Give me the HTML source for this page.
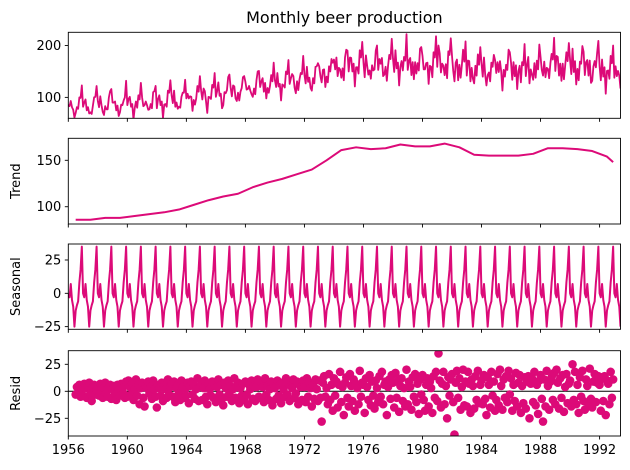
<!DOCTYPE html>
<html><head><meta charset="utf-8"><style>
html,body{margin:0;padding:0;background:#fff;}
svg{display:block;font-family:"DejaVu Sans","Liberation Sans",sans-serif;}
</style></head><body>
<svg id="chart" width="630" height="470" viewBox="0 0 630 470" xmlns="http://www.w3.org/2000/svg"></svg>
<script>
const years = [1956,1957,1958,1959,1960,1961,1962,1963,1964,1965,1966,1967,1968,1969,1970,1971,1972,1973,1974,1975,1976,1977,1978,1979,1980,1981,1982,1983,1984,1985,1986,1987,1988,1989,1990,1991,1992,1993];
const trendByYear = [86,86,88,88,90,92,94,97,102,107,111,114,121,126,130,135,140,150,161,164,162,163,167,165,165,168,164,156,155,155,155,157,163,163,162,160,154,148];
const seasonalByMonth = [0,-3,7,-5,-10,-25,-13,-9,-6,8,18,35];
const resid = [
0,0,0,0,0,0,-3,4,-2,6,-5,2,
-4,7,3,-6,5,8,-2,-9,4,6,-3,1,
5,-4,7,2,-6,3,8,-2,-5,4,6,-7,
2,5,-3,-8,6,1,-4,7,3,-2,-6,9,
-5,10,4,-3,7,-8,2,11,-4,6,-12,3,
8,-6,-14,5,3,9,-2,4,-7,10,2,-5,
-15,6,3,-4,8,-9,5,2,-6,11,-3,4,
7,-5,9,-10,3,6,-2,-8,10,4,-6,2,
-4,8,-11,5,9,-3,6,-7,2,12,-9,4,
6,-8,3,10,-5,-12,7,2,-4,9,-6,5,
-10,4,11,-3,6,-7,-13,8,3,-5,10,-2,
5,-9,2,12,-6,4,8,-11,3,-4,7,-8,
9,-3,-12,6,2,10,-7,5,-9,4,11,-5,
-6,8,4,-10,12,-3,5,-8,2,9,-13,6,
3,-7,10,-4,6,-11,8,2,-5,12,-3,7,
-9,5,3,11,-6,-2,9,-12,6,4,-8,10,
4,-10,12,-5,8,3,-14,6,-7,11,2,-9,
10,-6,-28,8,14,-5,3,-12,16,-8,6,-18,
12,-4,9,-15,6,18,-10,4,-22,8,13,-6,
-14,16,5,-9,11,-18,7,3,-12,19,-5,8,
6,-20,12,4,-8,15,-13,9,-4,-16,10,3,
-10,14,-5,18,-12,6,9,-22,4,11,-7,15,
8,-15,17,-6,10,-19,5,12,-9,3,-14,20,
-12,9,4,-17,13,-5,16,-10,7,-21,11,-3,
15,-8,-18,6,12,-14,9,3,-20,14,-6,18,
-9,35,10,-15,7,18,-12,5,-25,13,-4,11,
16,-10,-40,8,19,-6,12,-17,4,20,-13,9,
-14,18,7,-20,11,5,-16,14,-8,19,-11,6,
10,-12,15,-7,-22,13,6,-15,18,-4,9,-18,
-8,16,-13,20,5,-17,11,-6,14,-10,19,-3,
12,-18,6,-9,17,-14,8,15,-20,5,-11,13,
-16,9,14,-25,7,12,-10,18,-13,6,-21,10,
15,-7,-28,11,-14,19,5,-17,9,13,-8,17,
-12,20,8,-16,12,-6,15,-19,4,16,-11,7,
10,-14,25,-8,18,-12,6,-20,13,-5,19,-9,
-17,11,5,-13,21,-7,-15,9,16,-10,8,14,
6,-18,12,-9,14,-22,10,7,-12,18,-6,11,
-10,15,-14,8,4,-6];
const xTicks = [1956,1960,1964,1968,1972,1976,1980,1984,1988,1992];
const obsTicks = [100,200];
const trendTicks = [100,150];
const seasTicks = [-25,0,25];
const residTicks = [-25,0,25];

const NS = "http://www.w3.org/2000/svg";
const svg = document.getElementById('chart');
const COLOR = "#dc0a78";
const L = 68.3, R = 620.5;
const N = resid.length;
const t0 = 1956, t1 = 1956 + (N-1)/12;
const X = t => L + (t - t0) / (t1 - t0) * (R - L);
function el(tag, attrs, parent){ const e=document.createElementNS(NS,tag); for(const k in attrs) e.setAttribute(k,attrs[k]); (parent||svg).appendChild(e); return e; }

const panels = [
 {name:'observed', top:32.3, bot:118.3, min:59.6, max:225.6, ticks:obsTicks, label:''},
 {name:'trend', top:138.3, bot:224, min:81.4, max:173.7, ticks:trendTicks, label:'Trend'},
 {name:'seasonal', top:244, bot:329.3, min:-27, max:37, ticks:seasTicks, label:'Seasonal'},
 {name:'resid', top:350.7, bot:436, min:-41.4, max:37.6, ticks:residTicks, label:'Resid'}
];
panels.forEach(p => p.Y = v => p.bot - (v - p.min)/(p.max - p.min)*(p.bot - p.top));

const obs = [], seas = [];
for (let i=0;i<N;i++){
  const yi = Math.floor(i/12), m = i%12;
  seas.push(seasonalByMonth[m]);
  obs.push(trendByYear[yi] + seasonalByMonth[m] + resid[i]);
}

const title = el('text',{x:(L+R)/2,y:23,'text-anchor':'middle','font-size':'16',fill:'#000'});


title.textContent='Monthly beer production';

panels.forEach((p,pi) => {
  const g = el('g',{});
  
  
  const clipId = 'clip'+pi;
  const cp = el('clipPath',{id:clipId},g);
  el('rect',{x:L,y:p.top,width:R-L,height:p.bot-p.top},cp);
  const dg = el('g',{'clip-path':'url(#'+clipId+')'},g);
  if (p.name==='observed'){
    const pts = obs.map((v,i)=>X(t0+i/12).toFixed(2)+','+p.Y(v).toFixed(2)).join(' ');
    const pl = el('polyline',{points:pts,fill:'none',stroke:COLOR,'stroke-width':1.8,'stroke-linejoin':'round'},dg);
    
    
  } else if (p.name==='trend'){
    const pts = trendByYear.map((v,i)=>X(Math.min(years[i]+0.5, t0+(N-7)/12)).toFixed(2)+','+p.Y(v).toFixed(2)).join(' ');
    const pl = el('polyline',{points:pts,fill:'none',stroke:COLOR,'stroke-width':2,'stroke-linejoin':'round'},dg);
    
    
  } else if (p.name==='seasonal'){
    const pts = seas.map((v,i)=>X(t0+i/12).toFixed(2)+','+p.Y(v).toFixed(2)).join(' ');
    const pl = el('polyline',{points:pts,fill:'none',stroke:COLOR,'stroke-width':2,'stroke-linejoin':'round'},dg);
    
    
  } else {
    const zl = el('line',{x1:L,x2:R,y1:p.Y(0),y2:p.Y(0),stroke:'#000','stroke-width':1},dg);
    
    
    for (let i=6;i<N-6;i++){
      const c = el('circle',{cx:X(t0+i/12).toFixed(2),cy:p.Y(resid[i]).toFixed(2),r:4.3,fill:COLOR},dg);
      
      
    }
  }
  const fr = el('rect',{x:L,y:p.top,width:R-L,height:p.bot-p.top,fill:'none',stroke:'#000','stroke-width':0.9},g);
  
  
  p.ticks.forEach(v => {
    const y = p.Y(v);
    el('line',{x1:L-3.5,x2:L,y1:y,y2:y,stroke:'#000','stroke-width':0.9},g);
    const t = el('text',{x:L-7,y:y+4.5,'text-anchor':'end','font-size':'13',fill:'#000'},g);
    
    
    t.textContent = v < 0 ? '\u2212'+Math.abs(v) : String(v);
  });
  xTicks.forEach(v => {
    const x = X(v);
    el('line',{x1:x,x2:x,y1:p.bot,y2:p.bot+3.5,stroke:'#000','stroke-width':0.9},g);
    if (pi===3){
      const t = el('text',{x:x,y:p.bot+18,'text-anchor':'middle','font-size':'13',fill:'#000'},g);
      
      
      t.textContent = String(v);
    }
  });
  if (p.label){
    const cy = (p.top+p.bot)/2;
    const t = el('text',{x:0,y:0,transform:'translate(20,'+cy+') rotate(-90)','text-anchor':'middle','font-size':'13',fill:'#000'},g);
    
    
    t.textContent = p.label;
  }
});
</script>
</body></html>
